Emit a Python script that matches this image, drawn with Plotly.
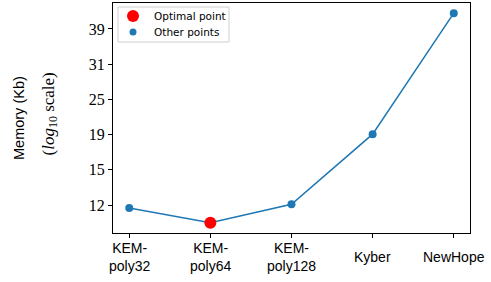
import plotly.graph_objects as go

categories = ["KEM-<br>poly32", "KEM-<br>poly64", "KEM-<br>poly128", "Kyber", "NewHope"]
memory_kb = [11.76, 10.66, 12.06, 19.3, 43.4]
optimal_index = 1
tick_values = [12.0, 15.19, 19.23, 24.35, 30.83, 39.03]
tick_labels = ["12", "15", "19", "25", "31", "39"]
legend_labels = ["Optimal point", "Other points"]

xs = list(range(len(categories)))
blue = "#1f77b4"

L, R, T, B = 113, 470, 3, 233
W, H = 491, 282
pw, ph = R - L, B - T


def px(x):
    return (x - L) / pw


def py(y):
    return (B - y) / ph


fig = go.Figure()
fig.add_trace(go.Scatter(x=xs, y=memory_kb, mode="lines", line=dict(color=blue, width=1.5),
                         showlegend=False, hoverinfo="skip"))
fig.add_trace(go.Scatter(x=[xs[optimal_index]], y=[memory_kb[optimal_index]], mode="markers",
                         marker=dict(color="red", size=12), name=legend_labels[0], showlegend=False))
other_x = [x for i, x in enumerate(xs) if i != optimal_index]
other_y = [y for i, y in enumerate(memory_kb) if i != optimal_index]
fig.add_trace(go.Scatter(x=other_x, y=other_y, mode="markers",
                         marker=dict(color=blue, size=8), name=legend_labels[1], showlegend=False))

# category labels, vertically centred under each tick as in the reference
for xv, cat in zip(xs, categories):
    fig.add_annotation(text=cat, xref="x", yref="paper", x=xv, y=py(257),
                       xanchor="center", yanchor="middle", showarrow=False,
                       font=dict(family="Liberation Sans", size=14, color="black"))

# y-axis title (two lines, as in the reference)
fig.add_annotation(text="Memory (Kb)", textangle=-90, xref="paper", yref="paper",
                   x=px(19), y=0.5, xanchor="center", yanchor="middle", showarrow=False,
                   font=dict(family="Liberation Sans", size=14.5, color="black"))
fig.add_annotation(text="(<i>log</i><sub>10</sub> scale)", textangle=-90, xref="paper", yref="paper",
                   x=px(50), y=0.52, xanchor="center", yanchor="middle", showarrow=False,
                   font=dict(family="Liberation Serif", size=17, color="black"))

# legend box drawn to match matplotlib's compact legend
fig.add_shape(type="rect", xref="paper", yref="paper", x0=px(118), x1=px(229), y0=py(42), y1=py(7),
              line=dict(color="#d0d0d0", width=1), fillcolor="rgba(255,255,255,0.8)", layer="above")
fig.add_shape(type="circle", xref="paper", yref="paper", x0=px(127), x1=px(139), y0=py(22), y1=py(10),
              line=dict(width=0), fillcolor="red", layer="above")
fig.add_shape(type="circle", xref="paper", yref="paper", x0=px(129.5), x1=px(136.5), y0=py(35.5), y1=py(28.5),
              line=dict(width=0), fillcolor=blue, layer="above")
for label, yy in zip(legend_labels, [16, 32]):
    fig.add_annotation(text=label, xref="paper", yref="paper", x=px(152), y=py(yy),
                       xanchor="left", yanchor="middle", showarrow=False,
                       font=dict(family="DejaVu Sans", size=10.5, color="black"))

fig.update_layout(
    width=W, height=H,
    margin=dict(l=L, r=W - R, t=T, b=H - B),
    paper_bgcolor="white", plot_bgcolor="white",
    font=dict(family="Liberation Sans", size=12, color="black"),
    showlegend=False,
    xaxis=dict(range=[-0.2, 4.2], tickmode="array", tickvals=xs, showticklabels=False,
               showgrid=False, zeroline=False, showline=True, linecolor="black", linewidth=1,
               mirror=True, ticks="outside", ticklen=4, tickcolor="black", automargin=False),
    yaxis=dict(type="log", range=[0.998, 1.667], tickmode="array", tickvals=tick_values,
               ticktext=tick_labels, showgrid=False, zeroline=False, showline=True,
               linecolor="black", linewidth=1, mirror=True, ticks="outside", ticklen=4,
               tickcolor="black", automargin=False,
               tickfont=dict(family="Liberation Serif", size=16)),
)

fig.write_html("out.html", config={"displayModeBar": False},
               post_script="document.body.style.margin='0';")
